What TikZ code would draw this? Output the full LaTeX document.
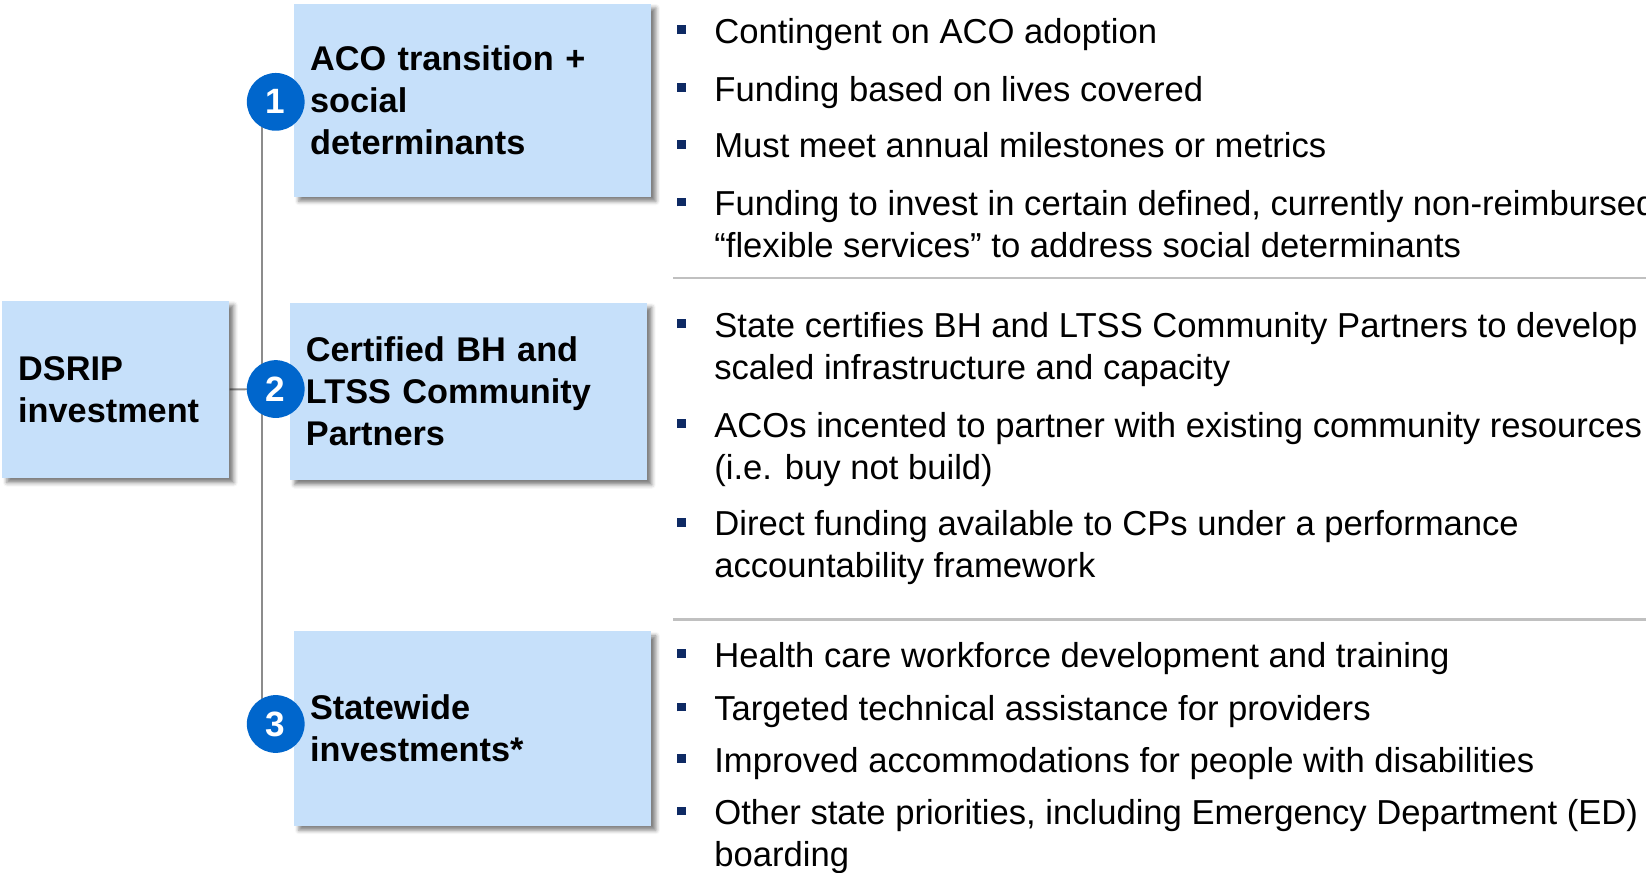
\documentclass[tikz,border=0pt]{standalone}
\usepackage{fontspec}
\setmainfont{Liberation Sans}
\usetikzlibrary{positioning,backgrounds,shadows.blur}

\definecolor{boxblue}{RGB}{198,224,250}
\definecolor{numblue}{RGB}{0,102,204}
\definecolor{bulletnavy}{RGB}{14,42,100}
\definecolor{linegray}{RGB}{140,140,140}
\definecolor{sepgray}{RGB}{192,192,192}

\newcommand{\sqbullet}{\llap{\textcolor{bulletnavy}{\rule[5.3pt]{5pt}{5pt}}\hspace{16.4pt}}}

\begin{document}
\begin{tikzpicture}[%
x=0.021cm,
y=-0.021cm,
cat/.style={anchor=north west, fill=boxblue, inner xsep=0.315cm, align=left,
  font=\bfseries\fontsize{19.5}{24}\selectfont,
  blur shadow={shadow xshift=0.09cm, shadow yshift=-0.09cm,
    shadow blur radius=0.08cm, shadow opacity=50}},
num/.style={circle, fill=numblue, text=white, minimum size=1.155cm,
  inner sep=0pt, font=\bfseries\fontsize{20}{24}\selectfont},
item/.style={anchor=north west, inner sep=0pt, align=left,
  font=\fontsize{19.7}{23.9}\selectfont},
link/.style={draw=linegray, line width=1.1pt},
sep/.style={draw=sepgray, line width=1.2pt}
]

\useasboundingbox (0,0) rectangle (1567.6,831.4);

% left column
\node[cat, minimum width=4.536cm, minimum height=3.549cm, text width=3.906cm]
  (dsrip) at (2,286) {DSRIP\\investment};
\node[cat, minimum width=7.14cm, minimum height=3.864cm, text width=6.51cm]
  (aco) at (280,3) {ACO transition +\\social\\determinants};
\node[cat, minimum width=7.14cm, minimum height=3.549cm, text width=6.51cm]
  (cp) at (276,288) {Certified BH and\\LTSS Community\\Partners};
\node[cat, minimum width=7.14cm, minimum height=3.885cm, text width=6.51cm]
  (sw) at (280,601) {Statewide\\investments*};

\node[num] (n1) at (262.6,97) {1};
\node[num] (n2) at (262.6,370.5) {2};
\node[num] (n3) at (262.6,689.5) {3};

\begin{scope}[on background layer]
\draw[link] ([xshift=-0.273cm]n1.center) -- ([xshift=-0.273cm]n3.center);
\draw[link] (dsrip.east) -- (n2.center);
\end{scope}

% bullets
\node[item] (g1a) at (680,13) {\sqbullet\strut Contingent on ACO adoption};
\node[item] (g1b) at (680,68) {\sqbullet\strut Funding based on lives covered};
\node[item] (g1c) at (680,122) {\sqbullet\strut Must meet annual milestones or metrics};
\node[item] (g1d) at (680,177) {\sqbullet\strut Funding to invest in certain defined, currently non-reimbursed\\“flexible services” to address social determinants};

\draw[sep] (641,265) -- (1600,265);

\node[item] (g2a) at (680,293) {\sqbullet\strut State certifies BH and LTSS Community Partners to develop\\scaled infrastructure and capacity};
\node[item] (g2b) at (680,388) {\sqbullet\strut ACOs incented to partner with existing community resources\\(i.e. buy not build)};
\node[item] (g2c) at (680,482) {\sqbullet\strut Direct funding available to CPs under a performance\\accountability framework};

\draw[sep] (641,590) -- (1600,590);

\node[item] (g3a) at (680,607) {\sqbullet\strut Health care workforce development and training};
\node[item] (g3b) at (680,658) {\sqbullet\strut Targeted technical assistance for providers};
\node[item] (g3c) at (680,707) {\sqbullet\strut Improved accommodations for people with disabilities};
\node[item] (g3d) at (680,757) {\sqbullet\strut Other state priorities, including Emergency Department (ED)\\boarding};

\end{tikzpicture}
\end{document}
